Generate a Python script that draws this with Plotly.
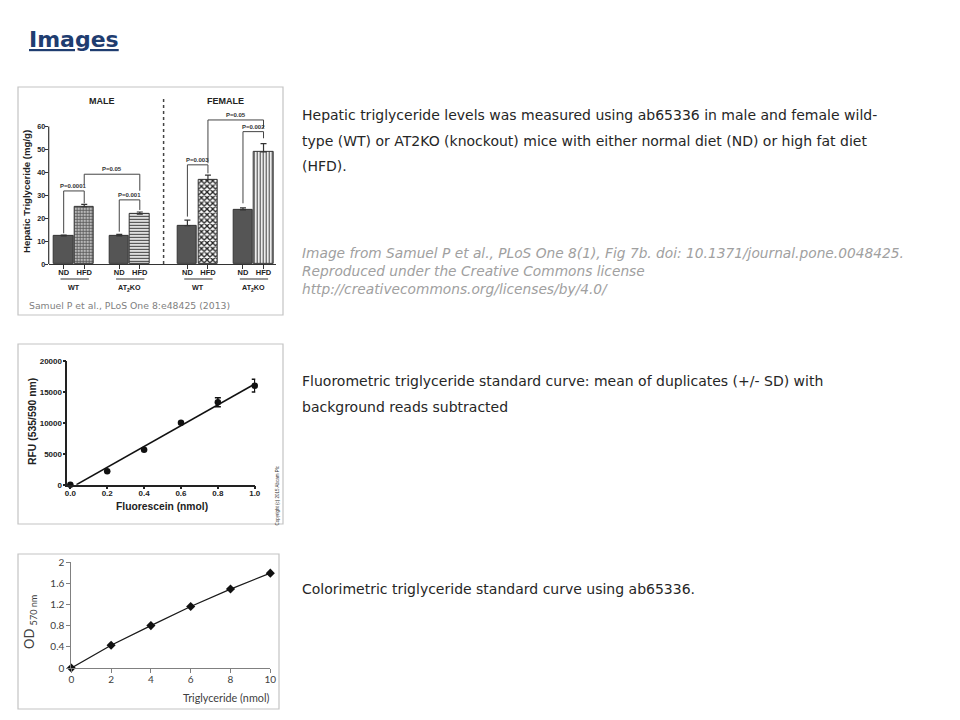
import numpy as np
import plotly.graph_objects as go

W, H = 960, 720
OFF = 8  # page body margin of the rendered html

# ---------------- data ----------------
# Chart 1: hepatic triglyceride (mg/g)
diet = ["ND", "HFD", "ND", "HFD", "ND", "HFD", "ND", "HFD"]
genotype = ["WT", "WT", "AT<sub>2</sub>KO", "AT<sub>2</sub>KO", "WT", "WT", "AT<sub>2</sub>KO", "AT<sub>2</sub>KO"]
sex_labels = ["MALE", "FEMALE"]
tg_mean = [12.3, 25.0, 12.3, 21.8, 16.7, 36.8, 23.6, 49.0]
tg_err = [0.3, 1.0, 0.6, 0.9, 2.5, 2.0, 0.9, 3.6]
# significance brackets
br_left = [0, 1, 2, 4, 5, 6]
br_right = [1, 3, 3, 5, 7, 7]
br_top = [31.9, 39.2, 28.0, 43.3, 62.9, 57.8]
br_lend = [13.4, 34.8, 14.1, 20.7, 44.0, 26.5]
br_rend = [26.5, 32.0, 23.6, 39.6, 59.3, 54.9]
br_text = ["P=0.0001", "P=0.05", "P=0.001", "P=0.003", "P=0.05", "P=0.002"]
y1_ticks = [0, 10, 20, 30, 40, 50, 60]

# Chart 2: fluorometric standard curve
fl_x = [0.0, 0.2, 0.4, 0.6, 0.8, 1.0]
fl_y = [0, 2160, 5680, 10050, 13350, 16050]
fl_sd = [0, 0, 0, 0, 730, 1030]
x2_ticks = [0.0, 0.2, 0.4, 0.6, 0.8, 1.0]
y2_ticks = [0, 5000, 10000, 15000, 20000]

# Chart 3: colorimetric standard curve
co_x = [0, 2, 4, 6, 8, 10]
co_y = [0.0, 0.43, 0.80, 1.16, 1.49, 1.79]
x3_ticks = [0, 2, 4, 6, 8, 10]
y3_ticks = [0, 0.4, 0.8, 1.2, 1.6, 2.0]

# ---------------- helpers ----------------
def px(x):
    return (x - OFF) / W


def py(y):
    return 1 - (y - OFF) / H


ARIAL = "Liberation Sans, Arial, sans-serif"
BODY = "DejaVu Sans, sans-serif"
LATO = "Lato, sans-serif"

fig = go.Figure()
annotations = []
shapes = []


def note(text, x, y, size, color, family=ARIAL, xref="paper", yref="paper",
         xanchor="center", yanchor="middle", angle=0):
    annotations.append(dict(x=x, y=y, xref=xref, yref=yref, text=text, showarrow=False,
                            xanchor=xanchor, yanchor=yanchor, textangle=angle,
                            font=dict(family=family, size=size, color=color)))


# ---------------- chart 1 ----------------
diet_step, geno_step, sex_step = 0.98, 2.65, 5.9
xpos = []
for i in range(8):
    s, g, d = i // 4, (i // 2) % 2, i % 2
    xpos.append(s * sex_step + g * geno_step + d * diet_step)

pattern_shape = ["", "+", "", "-", "", "x", "", "|"]
pattern_bg = ["#555555", "#b8b8b8", "#555555", "#ffffff", "#555555", "#ffffff", "#555555", "#ffffff"]
pattern_fg = ["#555555", "#555555", "#555555", "#444444", "#555555", "#222222", "#555555", "#444444"]
pattern_size = [4, 3, 4, 3, 4, 4, 4, 3]
pattern_sol = [0.3, 0.45, 0.3, 0.45, 0.3, 0.55, 0.3, 0.4]

for i in range(8):
    fig.add_trace(go.Bar(
        x=[xpos[i]], y=[tg_mean[i]], width=0.93,
        marker=dict(color=pattern_bg[i], line=dict(color="#333333", width=1),
                    pattern=dict(shape=pattern_shape[i], fgcolor=pattern_fg[i],
                                 bgcolor=pattern_bg[i], size=pattern_size[i],
                                 solidity=pattern_sol[i], fillmode="replace")),
        error_y=dict(type="data", symmetric=False, array=[tg_err[i]], arrayminus=[0],
                     color="#333333", thickness=1.2, width=3),
        xaxis="x", yaxis="y", showlegend=False, cliponaxis=False))

for k in range(len(br_text)):
    xl, xr = xpos[br_left[k]], xpos[br_right[k]]
    fig.add_trace(go.Scatter(
        x=[xl, xl, xr, xr], y=[br_lend[k], br_top[k], br_top[k], br_rend[k]],
        mode="lines", line=dict(color="#444444", width=1),
        xaxis="x", yaxis="y", showlegend=False, hoverinfo="skip"))
    note(f"<b>{br_text[k]}</b>", (xl + xr) / 2, br_top[k], 6, "#333333",
         xref="x", yref="y", yanchor="bottom")

for s in range(2):
    xc = (xpos[4 * s] + xpos[4 * s + 3]) / 2
    note(f"<b>{sex_labels[s]}</b>", xc, py(101.5), 9, "#222222", xref="x")

for g in range(4):
    a, b = xpos[2 * g], xpos[2 * g + 1]
    shapes.append(dict(type="line", xref="x", yref="paper", x0=a - 0.15, x1=b + 0.22,
                       y0=py(279), y1=py(279), line=dict(color="#333333", width=1)))
    note(f"<b>{genotype[2 * g]}</b>", (a + b) / 2, py(287.5), 7.2, "#222222", xref="x")

sep_x = (xpos[3] + xpos[4]) / 2
shapes.append(dict(type="line", xref="x", yref="paper", x0=sep_x, x1=sep_x,
                   y0=py(264), y1=py(97), line=dict(color="#444444", width=1.5, dash="dot")))

note("<b>Hepatic Triglyceride (mg/g)</b>", px(26), py(192), 9.6, "#222222", angle=-90)
shapes.append(dict(type="line", xref="x domain", yref="y", x0=0, x1=0, y0=0, y1=60,
                   line=dict(color="#333333", width=1.2)))
note("Samuel P et al., PLoS One 8:e48425 (2013)", px(27), py(305), 9.3, "#7f7f7f",
     family=BODY, xanchor="left")

# ---------------- chart 2 ----------------
slope, intercept = np.polyfit(fl_x, fl_y, 1)
x_start = -intercept / slope
fit_x = [x_start, max(fl_x)]
fit_y = [slope * v + intercept for v in fit_x]
fig.add_trace(go.Scatter(x=fit_x, y=fit_y, mode="lines", line=dict(color="#111111", width=1.5),
                         xaxis="x2", yaxis="y2", showlegend=False, hoverinfo="skip"))
fig.add_trace(go.Scatter(x=fl_x, y=fl_y, mode="markers",
                         marker=dict(color="#111111", size=6.5, symbol="circle"),
                         error_y=dict(type="data", array=fl_sd, color="#111111",
                                      thickness=1.5, width=3),
                         xaxis="x2", yaxis="y2", showlegend=False, cliponaxis=False))
note("<b>RFU (535/590 nm)</b>", px(33), py(422), 10.4, "#222222", angle=-90)
note("<b>Fluorescein (nmol)</b>", px(162), py(506), 10.3, "#222222")
note("Copyright (c) 2015 Abcam Plc", px(276.5), py(496), 4.5, "#333333", angle=-90)

# ---------------- chart 3 ----------------
fig.add_trace(go.Scatter(x=co_x, y=co_y, mode="lines+markers",
                         line=dict(color="#1a1a1a", width=1.3),
                         marker=dict(color="#111111", size=7, symbol="diamond"),
                         xaxis="x3", yaxis="y3", showlegend=False, cliponaxis=False))
note("OD <sub>570 nm</sub>", px(30), py(622), 13, "#404040", family=LATO, angle=-90)
note("Triglyceride (nmol)", px(226), py(697), 10.8, "#404040", family=LATO)

# ---------------- boxes ----------------
for (x0, y0, x1, y1) in [(18, 87, 283, 315), (18, 344, 283, 524), (18, 554, 279, 709)]:
    shapes.append(dict(type="rect", xref="paper", yref="paper",
                       x0=px(x0), x1=px(x1), y0=py(y1), y1=py(y0),
                       line=dict(color="#c4c4c4", width=1.2), layer="below"))

# ---------------- page text ----------------
note("<b><u>Images</u></b>", px(27), py(40), 22, "#1f3d70",
     family="DejaVu Sans, sans-serif", xanchor="left")

body_lines = [
    (115, "Hepatic triglyceride levels was measured using ab65336 in male and female wild-"),
    (141, "type (WT) or AT2KO (knockout) mice with either normal diet (ND) or high fat diet"),
    (166, "(HFD)."),
    (381, "Fluorometric triglyceride standard curve: mean of duplicates (+/- SD) with"),
    (407, "background reads subtracted"),
    (589, "Colorimetric triglyceride standard curve using ab65336."),
]
for yy, t in body_lines:
    note(t, px(300), py(yy), 14, "#262626", family=BODY, xanchor="left")

cite_lines = [
    (253, "Image from Samuel P et al., PLoS One 8(1), Fig 7b. doi: 10.1371/journal.pone.0048425."),
    (271, "Reproduced under the Creative Commons license"),
    (289, "http://creativecommons.org/licenses/by/4.0/"),
]
for yy, t in cite_lines:
    note(f"<i>{t}</i>", px(300), py(yy), 13.75, "#a0a0a0", family=BODY, xanchor="left")

# ---------------- layout ----------------
x1_left = xpos[0] - (63.7 - 48.7) / 21.0
x1_right = xpos[7] + (276 - 263.5) / 21.0

common = dict(showgrid=False, zeroline=False, automargin=False, fixedrange=True)
fig.update_layout(
    width=W, height=H, margin=dict(l=0, r=0, t=0, b=0, autoexpand=False),
    paper_bgcolor="white", plot_bgcolor="rgba(0,0,0,0)",
    showlegend=False, bargap=0,
    annotations=annotations, shapes=shapes,
    xaxis=dict(domain=[px(48.7), px(276)], range=[x1_left, x1_right],
               tickvals=xpos, ticktext=[f"<b>{d}</b>" for d in diet],
               ticks="outside", ticklen=4, tickwidth=1, tickcolor="#333333",
               ticklabelstandoff=-3,
               showline=True, linecolor="#333333", linewidth=1.2,
               tickfont=dict(family=ARIAL, size=7.5, color="#222222"), **common),
    yaxis=dict(domain=[py(264), py(264 - 66 * 2.29)], range=[0, 66],
               tickvals=y1_ticks, ticktext=[f"<b>{v}</b>" for v in y1_ticks],
               ticks="outside", ticklen=3, tickwidth=1, tickcolor="#333333",
               ticklabelstandoff=-2, showline=False,
               tickfont=dict(family=ARIAL, size=7.2, color="#222222"), **common),
    xaxis2=dict(domain=[px(67.3), px(255.3)], range=[-0.0163, 1.003], anchor="y2",
                tickvals=x2_ticks, ticktext=[f"<b>{v:.1f}</b>" for v in x2_ticks],
                ticks="outside", ticklen=3, tickwidth=1.5, tickcolor="#222222",
                ticklabelstandoff=-3,
                showline=True, linecolor="#222222", linewidth=1.5,
                tickfont=dict(family=ARIAL, size=8, color="#222222"), **common),
    yaxis2=dict(domain=[py(484.7), py(361.3)], range=[0, 20000], anchor="x2",
                tickvals=y2_ticks, ticktext=[f"<b>{v}</b>" for v in y2_ticks],
                ticks="outside", ticklen=3, tickwidth=1.5, tickcolor="#222222",
                ticklabelstandoff=-1,
                showline=True, linecolor="#222222", linewidth=1.5,
                tickfont=dict(family=ARIAL, size=8, color="#222222"), **common),
    xaxis3=dict(domain=[px(71.3), px(270.3)], range=[0, 10], anchor="y3",
                tickvals=x3_ticks, ticktext=[f"{v:g}" for v in x3_ticks],
                ticks="outside", ticklen=4, tickwidth=1, tickcolor="#808080",
                ticklabelstandoff=-2,
                showline=True, linecolor="#808080", linewidth=1,
                tickfont=dict(family=LATO, size=10, color="#404040"), **common),
    yaxis3=dict(domain=[py(668), py(562)], range=[0, 2], anchor="x3",
                tickvals=y3_ticks, ticktext=[f"{v:g}" for v in y3_ticks],
                ticks="outside", ticklen=4, tickwidth=1, tickcolor="#808080",
                showline=True, linecolor="#808080", linewidth=1,
                tickfont=dict(family=LATO, size=10, color="#404040"), **common),
)

fig.write_html("out.html")
